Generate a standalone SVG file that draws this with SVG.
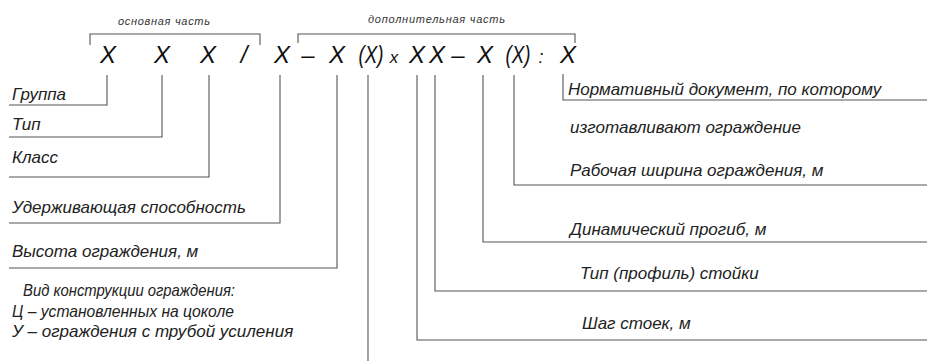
<svg xmlns="http://www.w3.org/2000/svg" width="927" height="361" viewBox="0 0 927 361">
<style>
.t{font-family:"Liberation Sans",Arial,sans-serif;font-style:italic;font-size:17px;fill:#222}
.s{font-family:"Liberation Sans",Arial,sans-serif;font-style:italic;font-size:11px;fill:#333}
.x{font-family:"Liberation Sans",Arial,sans-serif;font-style:italic;font-size:24px;fill:#111;text-anchor:middle}
.l{fill:none;stroke:#555;stroke-width:1.1}
</style>
<rect width="927" height="361" fill="#fff"/>
<g id="header">
<text class="s" x="118" y="25" textLength="92">основная часть</text>
<text class="s" x="368" y="23" textLength="137">дополнительная часть</text>
<path class="l" d="M90,45 V34 H260 V45"/>
<path class="l" d="M298,43 V34 H575 V43"/>
</g>
<g id="code">
<text class="x" x="108" y="63">X</text>
<text class="x" x="162" y="63">X</text>
<text class="x" x="208" y="63">X</text>
<text class="x" x="244" y="63">/</text>
<text class="x" x="282" y="63">X</text>
<text class="x" x="308" y="63">–</text>
<text class="x" x="337" y="63">X</text>
<text class="x" x="371" y="63" textLength="25" lengthAdjust="spacingAndGlyphs">(X)</text>
<text class="x" x="394" y="63" style="font-size:17px">x</text>
<text class="x" x="417" y="63">X</text>
<text class="x" x="437" y="63">X</text>
<text class="x" x="458" y="63">–</text>
<text class="x" x="485" y="63">X</text>
<text class="x" x="518" y="63" textLength="25" lengthAdjust="spacingAndGlyphs">(X)</text>
<text class="x" x="541" y="63" style="font-size:18px">:</text>
<text class="x" x="568" y="63">X</text>
</g>
<g id="connectors">
<path class="l" d="M107,75 V105 H9"/>
<path class="l" d="M162,75 V137 H9"/>
<path class="l" d="M209,75 V177 H9"/>
<path class="l" d="M280,75 V223 H9"/>
<path class="l" d="M337,75 V268 H9"/>
<path class="l" d="M368,75 V361"/>
<path class="l" d="M417,75 V340 H927"/>
<path class="l" d="M435,75 V291 H927"/>
<path class="l" d="M483,75 V242 H927"/>
<path class="l" d="M514,75 V185 H927"/>
<path class="l" d="M563,74 V100 H927"/>
</g>
<g id="n-gruppa"><text class="t" x="12" y="100">Группа</text></g>
<g id="n-tip"><text class="t" x="12" y="130">Тип</text></g>
<g id="n-klass"><text class="t" x="12" y="163">Класс</text></g>
<g id="n-uderzh"><text class="t" x="12" y="213">Удерживающая способность</text></g>
<g id="n-vysota"><text class="t" x="12" y="257">Высота ограждения, м</text></g>
<g id="n-vid">
<text class="t" x="23" y="296" textLength="212" lengthAdjust="spacingAndGlyphs">Вид конструкции ограждения:</text>
<text class="t" x="12" y="317" textLength="222" lengthAdjust="spacingAndGlyphs">Ц – установленных на цоколе</text>
<text class="t" x="12" y="337">У – ограждения с трубой усиления</text>
</g>
<g id="n-norm">
<text class="t" x="568" y="95">Нормативный документ, по которому</text>
<text class="t" x="570" y="133">изготавливают ограждение</text>
</g>
<g id="n-rab"><text class="t" x="570" y="176">Рабочая ширина ограждения, м</text></g>
<g id="n-din"><text class="t" x="570" y="235">Динамический прогиб, м</text></g>
<g id="n-prof"><text class="t" x="580" y="279">Тип (профиль) стойки</text></g>
<g id="n-shag"><text class="t" x="582" y="329">Шаг стоек, м</text></g>
</svg>
